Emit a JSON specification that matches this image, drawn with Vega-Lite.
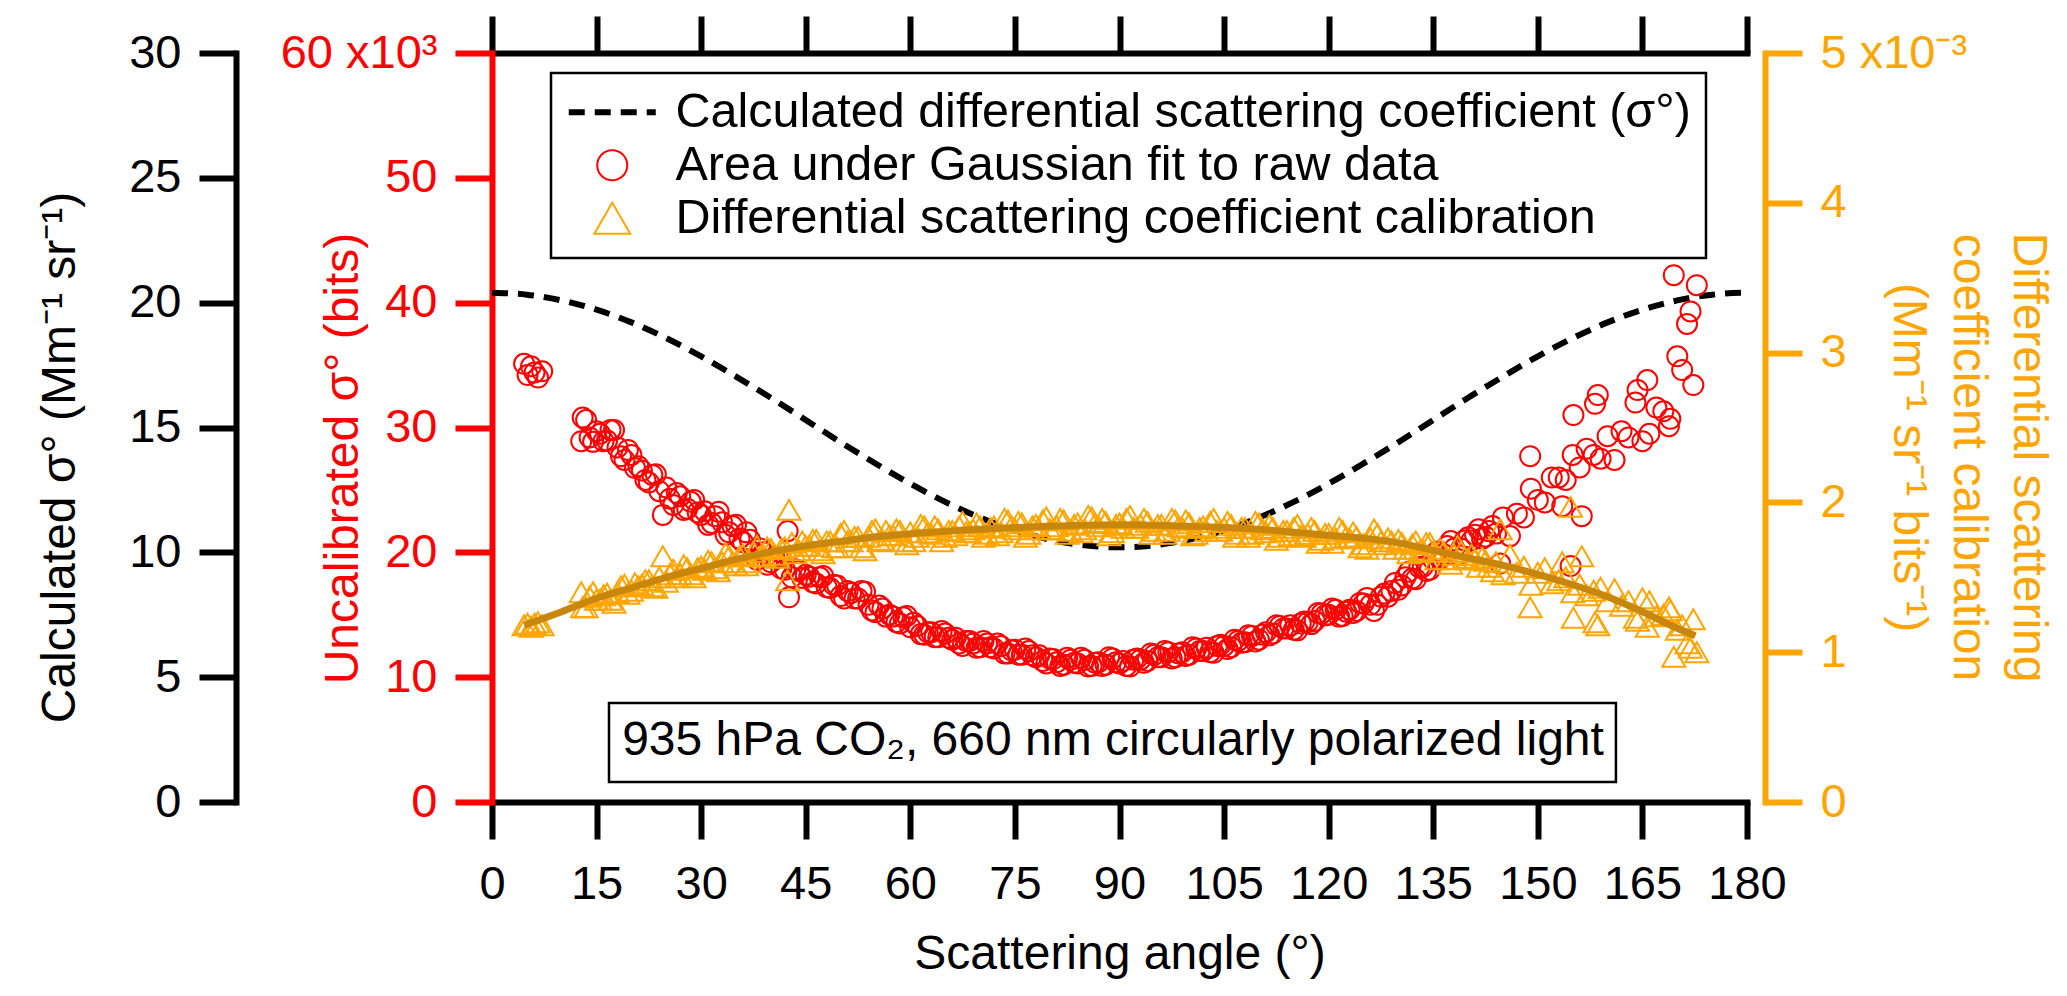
{
  "$schema": "https://vega.github.io/schema/vega-lite/v6.json",
  "background": "white",
  "autosize": "none",
  "width": 1255,
  "height": 749,
  "padding": {"left": 492, "top": 53, "right": 320, "bottom": 194},
  "config": {
    "font": "Liberation Sans",
    "view": {"stroke": null},
    "axis": {
      "grid": false,
      "labelFlush": false,
      "labelBound": false,
      "labelOverlap": false,
      "labelFontSize": 47,
      "titleFontSize": 48,
      "titleFontWeight": "normal",
      "domainWidth": 6,
      "domainCap": "square",
      "tickWidth": 6,
      "tickSize": 37
    }
  },
  "datasets": {
    "calc": [
      {"a": 0, "s": 20.4}, {"a": 5, "s": 20.32}, {"a": 10, "s": 20.09}, {"a": 15, "s": 19.72},
      {"a": 20, "s": 19.21}, {"a": 25, "s": 18.58}, {"a": 30, "s": 17.85}, {"a": 35, "s": 17.04},
      {"a": 40, "s": 16.19}, {"a": 45, "s": 15.3}, {"a": 50, "s": 14.41}, {"a": 55, "s": 13.56},
      {"a": 60, "s": 12.75}, {"a": 65, "s": 12.02}, {"a": 70, "s": 11.39}, {"a": 75, "s": 10.88},
      {"a": 80, "s": 10.51}, {"a": 85, "s": 10.28}, {"a": 90, "s": 10.2}, {"a": 95, "s": 10.28},
      {"a": 100, "s": 10.51}, {"a": 105, "s": 10.88}, {"a": 110, "s": 11.39}, {"a": 115, "s": 12.02},
      {"a": 120, "s": 12.75}, {"a": 125, "s": 13.56}, {"a": 130, "s": 14.41}, {"a": 135, "s": 15.3},
      {"a": 140, "s": 16.19}, {"a": 145, "s": 17.04}, {"a": 150, "s": 17.85}, {"a": 155, "s": 18.58},
      {"a": 160, "s": 19.21}, {"a": 165, "s": 19.72}, {"a": 170, "s": 20.09}, {"a": 175, "s": 20.32},
      {"a": 180, "s": 20.4}
    ],
    "fit": [
      {"a": 4.6, "t": 1.18}, {"a": 10, "t": 1.27}, {"a": 15, "t": 1.36}, {"a": 20, "t": 1.43},
      {"a": 25, "t": 1.5}, {"a": 30, "t": 1.56}, {"a": 35, "t": 1.62}, {"a": 40, "t": 1.67},
      {"a": 45, "t": 1.71}, {"a": 50, "t": 1.74}, {"a": 55, "t": 1.77}, {"a": 60, "t": 1.79},
      {"a": 70, "t": 1.82}, {"a": 80, "t": 1.84}, {"a": 90, "t": 1.85}, {"a": 100, "t": 1.84},
      {"a": 110, "t": 1.82}, {"a": 120, "t": 1.78}, {"a": 125, "t": 1.76}, {"a": 130, "t": 1.73},
      {"a": 135, "t": 1.68}, {"a": 140, "t": 1.63}, {"a": 145, "t": 1.58}, {"a": 150, "t": 1.52},
      {"a": 155, "t": 1.45}, {"a": 160, "t": 1.37}, {"a": 165, "t": 1.27}, {"a": 170, "t": 1.16},
      {"a": 172.6, "t": 1.11}
    ],
    "pts": [
      {"a": 4.6, "r": 35.1, "t": 1.18}, {"a": 5.1, "r": 34.2, "t": 1.19}, {"a": 5.6, "r": 34.9, "t": 1.17},
      {"a": 6.1, "r": 34.4, "t": 1.19}, {"a": 6.6, "r": 34.0, "t": 1.2}, {"a": 7.2, "r": 34.5, "t": 1.18},
      {"a": 12.8, "r": 28.9, "t": 1.4}, {"a": 13, "r": 30.8, "t": 1.3}, {"a": 13.5, "r": 30.6, "t": 1.3},
      {"a": 14, "r": 29.2, "t": 1.37}, {"a": 14.5, "r": 28.85, "t": 1.4}, {"a": 15, "r": 29.7, "t": 1.35},
      {"a": 15.5, "r": 29.5, "t": 1.35}, {"a": 16, "r": 28.9, "t": 1.38}, {"a": 16.5, "r": 28.95, "t": 1.39},
      {"a": 17, "r": 29.8, "t": 1.35}, {"a": 17.5, "r": 29.8, "t": 1.33}, {"a": 18, "r": 28.4, "t": 1.4},
      {"a": 18.5, "r": 27.7, "t": 1.44}, {"a": 19, "r": 27.4, "t": 1.45}, {"a": 19.5, "r": 28.2, "t": 1.39},
      {"a": 20, "r": 27.8, "t": 1.41}, {"a": 20.5, "r": 26.75, "t": 1.46}, {"a": 21, "r": 26.9, "t": 1.44},
      {"a": 21.5, "r": 26.55, "t": 1.45}, {"a": 22, "r": 25.8, "t": 1.48}, {"a": 22.5, "r": 25.6, "t": 1.48},
      {"a": 23, "r": 26.2, "t": 1.44}, {"a": 23.5, "r": 26.25, "t": 1.43}, {"a": 24, "r": 24.9, "t": 1.5},
      {"a": 24.5, "r": 23.0, "t": 1.64}, {"a": 25, "r": 25.2, "t": 1.47}, {"a": 25.5, "r": 24.3, "t": 1.52},
      {"a": 26, "r": 23.8, "t": 1.55}, {"a": 26.5, "r": 24.75, "t": 1.5}, {"a": 27, "r": 24.5, "t": 1.52},
      {"a": 27.5, "r": 23.4, "t": 1.58}, {"a": 28, "r": 23.5, "t": 1.56}, {"a": 28.5, "r": 24.05, "t": 1.52},
      {"a": 29, "r": 24.2, "t": 1.5}, {"a": 29.5, "r": 23.2, "t": 1.56}, {"a": 30, "r": 23.0, "t": 1.57},
      {"a": 30.5, "r": 23.3, "t": 1.55}, {"a": 31, "r": 22.2, "t": 1.61}, {"a": 31.5, "r": 22.35, "t": 1.6},
      {"a": 32, "r": 22.9, "t": 1.56}, {"a": 32.5, "r": 23.25, "t": 1.54}, {"a": 33, "r": 22.4, "t": 1.6},
      {"a": 33.5, "r": 21.4, "t": 1.66}, {"a": 34, "r": 21.6, "t": 1.64}, {"a": 34.5, "r": 22.1, "t": 1.6},
      {"a": 35, "r": 22.2, "t": 1.58}, {"a": 35.5, "r": 21.1, "t": 1.64}, {"a": 36, "r": 20.8, "t": 1.65},
      {"a": 36.5, "r": 21.6, "t": 1.58}, {"a": 37, "r": 21.0, "t": 1.6}, {"a": 37.5, "r": 20.0, "t": 1.67},
      {"a": 38, "r": 19.4, "t": 1.71}, {"a": 38.5, "r": 20.3, "t": 1.64}, {"a": 39, "r": 20.0, "t": 1.64},
      {"a": 39.5, "r": 19.0, "t": 1.7}, {"a": 40, "r": 19.2, "t": 1.69}, {"a": 40.5, "r": 19.6, "t": 1.65},
      {"a": 41, "r": 19.6, "t": 1.63}, {"a": 41.5, "r": 18.7, "t": 1.69}, {"a": 42, "r": 18.6, "t": 1.7},
      {"a": 42.4, "r": 21.7, "t": 1.48}, {"a": 42.6, "r": 16.4, "t": 1.95}, {"a": 43, "r": 18.0, "t": 1.73},
      {"a": 43.5, "r": 18.65, "t": 1.66}, {"a": 44, "r": 18.5, "t": 1.68}, {"a": 44.5, "r": 17.95, "t": 1.74},
      {"a": 45, "r": 18.2, "t": 1.71}, {"a": 45.5, "r": 18.05, "t": 1.71}, {"a": 46, "r": 17.6, "t": 1.75},
      {"a": 46.5, "r": 17.5, "t": 1.75}, {"a": 47, "r": 18.0, "t": 1.68}, {"a": 47.5, "r": 18.1, "t": 1.66},
      {"a": 48, "r": 17.2, "t": 1.74}, {"a": 48.5, "r": 17.15, "t": 1.74}, {"a": 49, "r": 17.4, "t": 1.7},
      {"a": 49.5, "r": 17.35, "t": 1.7}, {"a": 50, "r": 16.5, "t": 1.79}, {"a": 50.5, "r": 16.3, "t": 1.81},
      {"a": 51, "r": 16.9, "t": 1.74}, {"a": 51.5, "r": 16.75, "t": 1.74}, {"a": 52, "r": 16.3, "t": 1.77},
      {"a": 52.5, "r": 16.3, "t": 1.77}, {"a": 53, "r": 16.9, "t": 1.7}, {"a": 53.5, "r": 16.85, "t": 1.68},
      {"a": 54, "r": 15.8, "t": 1.77}, {"a": 54.5, "r": 15.35, "t": 1.81}, {"a": 55, "r": 15.2, "t": 1.82},
      {"a": 55.5, "r": 15.75, "t": 1.74}, {"a": 56, "r": 15.5, "t": 1.75}, {"a": 56.5, "r": 14.85, "t": 1.81},
      {"a": 57, "r": 15.0, "t": 1.78}, {"a": 57.5, "r": 14.85, "t": 1.78}, {"a": 58, "r": 14.4, "t": 1.82},
      {"a": 58.5, "r": 14.3, "t": 1.81}, {"a": 59, "r": 14.8, "t": 1.74}, {"a": 59.5, "r": 14.9, "t": 1.72},
      {"a": 60, "r": 14.0, "t": 1.8}, {"a": 60.5, "r": 14.35, "t": 1.74}, {"a": 61, "r": 14.1, "t": 1.77},
      {"a": 61.5, "r": 13.45, "t": 1.85}, {"a": 62, "r": 13.4, "t": 1.84}, {"a": 62.5, "r": 13.6, "t": 1.8},
      {"a": 63, "r": 13.6, "t": 1.79}, {"a": 63.5, "r": 13.2, "t": 1.84}, {"a": 64, "r": 13.2, "t": 1.82},
      {"a": 64.5, "r": 13.7, "t": 1.74}, {"a": 65, "r": 13.5, "t": 1.77}, {"a": 65.5, "r": 13.15, "t": 1.81},
      {"a": 66, "r": 13.0, "t": 1.81}, {"a": 66.5, "r": 13.15, "t": 1.78}, {"a": 67, "r": 12.7, "t": 1.84},
      {"a": 67.5, "r": 12.5, "t": 1.87}, {"a": 68, "r": 12.9, "t": 1.8}, {"a": 68.5, "r": 12.9, "t": 1.8},
      {"a": 69, "r": 12.7, "t": 1.82}, {"a": 69.5, "r": 12.35, "t": 1.86}, {"a": 70, "r": 12.4, "t": 1.84},
      {"a": 70.5, "r": 12.9, "t": 1.77}, {"a": 71, "r": 12.7, "t": 1.79}, {"a": 71.5, "r": 12.4, "t": 1.83},
      {"a": 72, "r": 12.3, "t": 1.84}, {"a": 72.5, "r": 12.7, "t": 1.78}, {"a": 73, "r": 12.5, "t": 1.8},
      {"a": 73.5, "r": 11.9, "t": 1.89}, {"a": 74, "r": 11.9, "t": 1.88}, {"a": 74.5, "r": 12.15, "t": 1.84},
      {"a": 75, "r": 12.2, "t": 1.82}, {"a": 75.5, "r": 11.8, "t": 1.87}, {"a": 76, "r": 11.8, "t": 1.86},
      {"a": 76.5, "r": 12.3, "t": 1.77}, {"a": 77, "r": 12.1, "t": 1.79}, {"a": 77.5, "r": 11.75, "t": 1.84},
      {"a": 78, "r": 11.6, "t": 1.85}, {"a": 78.5, "r": 11.75, "t": 1.82}, {"a": 79, "r": 11.3, "t": 1.88},
      {"a": 79.5, "r": 11.1, "t": 1.9}, {"a": 80, "r": 11.5, "t": 1.82}, {"a": 80.5, "r": 11.45, "t": 1.82},
      {"a": 81, "r": 11.2, "t": 1.84}, {"a": 81.5, "r": 10.9, "t": 1.89}, {"a": 82, "r": 11.0, "t": 1.88},
      {"a": 82.5, "r": 11.55, "t": 1.79}, {"a": 83, "r": 11.4, "t": 1.81}, {"a": 83.5, "r": 11.15, "t": 1.85},
      {"a": 84, "r": 11.1, "t": 1.86}, {"a": 84.5, "r": 11.55, "t": 1.8}, {"a": 85, "r": 11.4, "t": 1.82},
      {"a": 85.5, "r": 10.85, "t": 1.91}, {"a": 86, "r": 10.9, "t": 1.9}, {"a": 86.5, "r": 11.15, "t": 1.86},
      {"a": 87, "r": 11.2, "t": 1.84}, {"a": 87.5, "r": 10.9, "t": 1.89}, {"a": 88, "r": 11.0, "t": 1.87},
      {"a": 88.5, "r": 11.6, "t": 1.78}, {"a": 89, "r": 11.5, "t": 1.8}, {"a": 89.5, "r": 11.2, "t": 1.85},
      {"a": 90, "r": 11.1, "t": 1.86}, {"a": 90.5, "r": 11.3, "t": 1.83}, {"a": 91, "r": 10.9, "t": 1.89},
      {"a": 91.5, "r": 10.85, "t": 1.91}, {"a": 92, "r": 11.4, "t": 1.83}, {"a": 92.5, "r": 11.5, "t": 1.83},
      {"a": 93, "r": 11.4, "t": 1.85}, {"a": 93.5, "r": 11.15, "t": 1.89}, {"a": 94, "r": 11.3, "t": 1.87},
      {"a": 94.5, "r": 11.9, "t": 1.79}, {"a": 95, "r": 11.8, "t": 1.81}, {"a": 95.5, "r": 11.6, "t": 1.85},
      {"a": 96, "r": 11.6, "t": 1.85}, {"a": 96.5, "r": 12.1, "t": 1.79}, {"a": 97, "r": 12.0, "t": 1.81},
      {"a": 97.5, "r": 11.5, "t": 1.89}, {"a": 98, "r": 11.6, "t": 1.88}, {"a": 98.5, "r": 11.9, "t": 1.84},
      {"a": 99, "r": 12.0, "t": 1.83}, {"a": 99.5, "r": 11.7, "t": 1.88}, {"a": 100, "r": 11.8, "t": 1.86},
      {"a": 100.5, "r": 12.4, "t": 1.78}, {"a": 101, "r": 12.3, "t": 1.79}, {"a": 101.5, "r": 12.1, "t": 1.83},
      {"a": 102, "r": 12.1, "t": 1.84}, {"a": 102.5, "r": 12.35, "t": 1.81}, {"a": 103, "r": 12.0, "t": 1.87},
      {"a": 103.5, "r": 11.95, "t": 1.89}, {"a": 104, "r": 12.5, "t": 1.81}, {"a": 104.5, "r": 12.6, "t": 1.81},
      {"a": 105, "r": 12.5, "t": 1.83}, {"a": 105.5, "r": 12.25, "t": 1.87}, {"a": 106, "r": 12.4, "t": 1.85},
      {"a": 106.5, "r": 13.0, "t": 1.77}, {"a": 107, "r": 12.9, "t": 1.79}, {"a": 107.5, "r": 12.75, "t": 1.83},
      {"a": 108, "r": 12.8, "t": 1.83}, {"a": 108.5, "r": 13.35, "t": 1.77}, {"a": 109, "r": 13.3, "t": 1.79},
      {"a": 109.5, "r": 12.85, "t": 1.87}, {"a": 110, "r": 13.0, "t": 1.86}, {"a": 110.5, "r": 13.4, "t": 1.82},
      {"a": 111, "r": 13.6, "t": 1.8}, {"a": 111.5, "r": 13.35, "t": 1.85}, {"a": 112, "r": 13.5, "t": 1.83},
      {"a": 112.5, "r": 14.15, "t": 1.75}, {"a": 113, "r": 14.1, "t": 1.77}, {"a": 113.5, "r": 13.9, "t": 1.81},
      {"a": 114, "r": 13.9, "t": 1.81}, {"a": 114.5, "r": 14.15, "t": 1.78}, {"a": 115, "r": 13.8, "t": 1.83},
      {"a": 115.5, "r": 13.75, "t": 1.85}, {"a": 116, "r": 14.3, "t": 1.78}, {"a": 116.5, "r": 14.45, "t": 1.77},
      {"a": 117, "r": 14.4, "t": 1.79}, {"a": 117.5, "r": 14.25, "t": 1.83}, {"a": 118, "r": 14.5, "t": 1.81},
      {"a": 118.5, "r": 15.15, "t": 1.73}, {"a": 119, "r": 15.1, "t": 1.75}, {"a": 119.5, "r": 14.95, "t": 1.79},
      {"a": 120, "r": 15.0, "t": 1.79}, {"a": 120.5, "r": 15.5, "t": 1.73}, {"a": 121, "r": 15.4, "t": 1.76},
      {"a": 121.5, "r": 14.85, "t": 1.83}, {"a": 122, "r": 14.9, "t": 1.81}, {"a": 122.5, "r": 15.25, "t": 1.77},
      {"a": 123, "r": 15.4, "t": 1.76}, {"a": 123.5, "r": 15.15, "t": 1.8}, {"a": 124, "r": 15.3, "t": 1.77},
      {"a": 124.5, "r": 15.95, "t": 1.7}, {"a": 125, "r": 15.9, "t": 1.72}, {"a": 125.5, "r": 16.35, "t": 1.69},
      {"a": 126, "r": 15.8, "t": 1.76}, {"a": 126.5, "r": 15.3, "t": 1.82}, {"a": 127, "r": 15.8, "t": 1.79},
      {"a": 127.5, "r": 16.45, "t": 1.74}, {"a": 128, "r": 16.7, "t": 1.72}, {"a": 128.5, "r": 16.45, "t": 1.76},
      {"a": 129, "r": 16.9, "t": 1.74}, {"a": 129.5, "r": 17.55, "t": 1.69}, {"a": 130, "r": 17.0, "t": 1.75},
      {"a": 130.5, "r": 17.35, "t": 1.73}, {"a": 131, "r": 18.0, "t": 1.69}, {"a": 131.5, "r": 18.45, "t": 1.66},
      {"a": 132, "r": 17.9, "t": 1.72}, {"a": 132.5, "r": 17.85, "t": 1.74}, {"a": 133, "r": 18.8, "t": 1.67},
      {"a": 133.5, "r": 18.85, "t": 1.68}, {"a": 134, "r": 18.5, "t": 1.73}, {"a": 134.5, "r": 18.6, "t": 1.73},
      {"a": 135, "r": 19.4, "t": 1.67}, {"a": 135.5, "r": 20.05, "t": 1.62}, {"a": 136, "r": 19.5, "t": 1.69},
      {"a": 136.5, "r": 19.85, "t": 1.67}, {"a": 137, "r": 20.5, "t": 1.62}, {"a": 137.5, "r": 20.9, "t": 1.59},
      {"a": 138, "r": 20.3, "t": 1.65}, {"a": 138.5, "r": 19.8, "t": 1.71}, {"a": 139, "r": 20.3, "t": 1.67},
      {"a": 139.5, "r": 20.95, "t": 1.63}, {"a": 140, "r": 21.2, "t": 1.62}, {"a": 140.5, "r": 20.95, "t": 1.65},
      {"a": 141, "r": 21.4, "t": 1.62}, {"a": 141.5, "r": 21.85, "t": 1.57}, {"a": 142, "r": 21.1, "t": 1.63},
      {"a": 142.5, "r": 21.25, "t": 1.61}, {"a": 143, "r": 21.7, "t": 1.57}, {"a": 143.5, "r": 22.1, "t": 1.54},
      {"a": 144, "r": 21.5, "t": 1.6}, {"a": 144.6, "r": 19.1, "t": 1.82}, {"a": 145, "r": 22.8, "t": 1.52},
      {"a": 146, "r": 21.3, "t": 1.65}, {"a": 147, "r": 23.1, "t": 1.53}, {"a": 148, "r": 22.8, "t": 1.57},
      {"a": 148.9, "r": 27.7, "t": 1.3}, {"a": 149, "r": 25.1, "t": 1.45}, {"a": 150, "r": 24.2, "t": 1.53},
      {"a": 151, "r": 24.0, "t": 1.56}, {"a": 152, "r": 26.0, "t": 1.46}, {"a": 153, "r": 26.0, "t": 1.48},
      {"a": 153.5, "r": 23.7, "t": 1.6}, {"a": 154, "r": 25.8, "t": 1.5}, {"a": 154.7, "r": 18.9, "t": 1.97},
      {"a": 155, "r": 27.8, "t": 1.4}, {"a": 155.1, "r": 31.0, "t": 1.23}, {"a": 156, "r": 26.8, "t": 1.45},
      {"a": 156.3, "r": 22.9, "t": 1.64}, {"a": 157, "r": 28.3, "t": 1.38}, {"a": 158, "r": 27.8, "t": 1.41},
      {"a": 158.2, "r": 31.9, "t": 1.2}, {"a": 158.6, "r": 32.6, "t": 1.18}, {"a": 159, "r": 27.5, "t": 1.43},
      {"a": 160, "r": 29.3, "t": 1.34}, {"a": 161, "r": 27.4, "t": 1.42}, {"a": 162, "r": 29.7, "t": 1.31},
      {"a": 163, "r": 29.2, "t": 1.34}, {"a": 164, "r": 32.0, "t": 1.23}, {"a": 164.3, "r": 33.0, "t": 1.21},
      {"a": 165, "r": 28.9, "t": 1.36}, {"a": 165.7, "r": 33.8, "t": 1.17}, {"a": 166, "r": 29.5, "t": 1.34},
      {"a": 167, "r": 31.6, "t": 1.24}, {"a": 168, "r": 31.3, "t": 1.25}, {"a": 168.8, "r": 30.1, "t": 1.3},
      {"a": 169, "r": 30.7, "t": 1.28}, {"a": 169.5, "r": 42.2, "t": 0.97}, {"a": 170, "r": 35.7, "t": 1.15},
      {"a": 170.7, "r": 34.6, "t": 1.18}, {"a": 171.4, "r": 38.3, "t": 1.06}, {"a": 171.9, "r": 39.3, "t": 1.03},
      {"a": 172.3, "r": 33.4, "t": 1.22}, {"a": 172.8, "r": 41.4, "t": 1.0}
    ]
  },
  "resolve": {"scale": {"y": "independent"}, "axis": {"x": "independent"}},
  "layer": [
    {
      "data": {"name": "calc"},
      "mark": {"type": "line", "strokeWidth": 6, "strokeDash": [16, 10], "interpolate": "monotone"},
      "encoding": {
        "x": {
          "field": "a", "type": "quantitative",
          "scale": {"domain": [0, 180], "nice": false},
          "axis": {
            "orient": "bottom",
            "values": [0, 15, 30, 45, 60, 75, 90, 105, 120, 135, 150, 165, 180],
            "domainColor": "black", "tickColor": "black", "labelColor": "black",
            "labelPadding": 22,
            "title": "Scattering angle (°)", "titleColor": "black",
            "titleBaseline": "alphabetic", "titleY": 166
          }
        },
        "y": {
          "field": "s", "type": "quantitative",
          "scale": {"domain": [0, 30], "nice": false},
          "axis": {
            "orient": "left", "offset": 256,
            "values": [0, 5, 10, 15, 20, 25, 30],
            "domainColor": "black", "tickColor": "black", "labelColor": "black",
            "labelPadding": 18,
            "title": "Calculated σ° (Mm⁻¹ sr⁻¹)", "titleColor": "black",
            "titleAngle": 270, "titleBaseline": "alphabetic", "titleX": -162, "titleY": 404
          }
        },
        "color": {
          "datum": "Calculated differential scattering coefficient (σ°)",
          "type": "nominal",
          "scale": {
            "domain": ["Calculated differential scattering coefficient (σ°)", "Area under Gaussian fit to raw data", "Differential scattering coefficient calibration"],
            "range": ["black", "red", "#FFA500"]
          },
          "legend": {
            "title": null,
            "orient": "none",
            "legendX": 59,
            "legendY": 20,
            "padding": 15,
            "rowPadding": 4,
            "symbolSize": 900,
            "symbolOffset": 22,
            "labelOffset": 39,
            "labelFontSize": 48.5,
            "labelColor": "black",
            "labelLimit": 2000,
            "strokeColor": "black",
            "fillColor": "white",
            "encode": {
              "legend": {"update": {"strokeWidth": {"value": 2.5}}},
              "symbols": {
                "update": {
                  "shape": {"signal": "datum.index === 0 ? 'stroke' : datum.index === 1 ? 'circle' : 'triangle-up'"},
                  "size": {"signal": "datum.index === 0 ? 7569 : datum.index === 1 ? 900 : 1296"},
                  "strokeDash": {"signal": "datum.index === 0 ? [16, 10] : [1, 0]"},
                  "strokeWidth": {"signal": "datum.index === 0 ? 6 : 2"},
                  "stroke": {"signal": "datum.index === 0 ? 'black' : datum.index === 1 ? 'red' : '#FFA500'"},
                  "fill": {"value": "transparent"},
                  "opacity": {"value": 1}
                }
              }
            }
          }
        }
      }
    },
    {
      "data": {"name": "pts"},
      "mark": {"type": "point", "shape": "circle", "filled": false, "size": 400, "strokeWidth": 2, "opacity": 1},
      "encoding": {
        "x": {"field": "a", "type": "quantitative", "axis": null},
        "y": {
          "field": "r", "type": "quantitative",
          "scale": {"domain": [0, 60], "nice": false},
          "axis": {
            "orient": "left", "offset": 0,
            "values": [0, 10, 20, 30, 40, 50, 60],
            "labelExpr": "datum.value === 60 ? '60 x10³' : datum.label",
            "domainColor": "red", "tickColor": "red", "labelColor": "red",
            "labelPadding": 18,
            "title": "Uncalibrated σ° (bits)", "titleColor": "red",
            "titleAngle": 270, "titleBaseline": "alphabetic", "titleX": -135, "titleY": 405
          }
        },
        "color": {"datum": "Area under Gaussian fit to raw data", "type": "nominal"}
      }
    },
    {
      "data": {"name": "pts"},
      "mark": {"type": "point", "shape": "triangle-up", "filled": false, "size": 529, "strokeWidth": 2, "opacity": 1},
      "encoding": {
        "x": {"field": "a", "type": "quantitative", "axis": null},
        "y": {
          "field": "t", "type": "quantitative",
          "scale": {"domain": [0, 5], "nice": false},
          "axis": {
            "orient": "right", "offset": 18,
            "values": [0, 1, 2, 3, 4, 5],
            "labelExpr": "datum.value === 5 ? '5 x10⁻³' : datum.label",
            "domainColor": "#FFA500", "tickColor": "#FFA500", "labelColor": "#FFA500",
            "labelPadding": 18,
            "title": ["Differential scattering", "coefficient calibration", "(Mm⁻¹ sr⁻¹ bits⁻¹)"],
            "titleColor": "#FFA500", "titleLineHeight": 60,
            "titleAngle": 90, "titleBaseline": "alphabetic", "titleX": 248, "titleY": 404
          }
        },
        "color": {"datum": "Differential scattering coefficient calibration", "type": "nominal"}
      }
    },
    {
      "data": {"name": "fit"},
      "mark": {"type": "line", "color": "#C8870A", "strokeWidth": 7, "interpolate": "monotone"},
      "encoding": {
        "x": {"field": "a", "type": "quantitative", "axis": null},
        "y": {"field": "t", "type": "quantitative", "scale": {"domain": [0, 5], "nice": false}, "axis": null}
      }
    },
    {
      "data": {"values": [{}]},
      "mark": {"type": "rect", "fill": "white", "stroke": "black", "strokeWidth": 2.5},
      "encoding": {
        "x": {
          "datum": 16.78, "type": "quantitative",
          "axis": {
            "orient": "top",
            "values": [0, 15, 30, 45, 60, 75, 90, 105, 120, 135, 150, 165, 180],
            "labels": false, "title": null,
            "domainColor": "black", "tickColor": "black"
          }
        },
        "x2": {"datum": 161.2},
        "y": {"datum": 7.93, "type": "quantitative", "scale": {"domain": [0, 60], "nice": false}, "axis": null},
        "y2": {"datum": 1.6}
      }
    },
    {
      "data": {"values": [{}]},
      "mark": {"type": "text", "fontSize": 48, "align": "center", "baseline": "alphabetic", "color": "black"},
      "encoding": {
        "x": {"datum": 89.07, "type": "quantitative", "axis": null},
        "y": {"datum": 3.77, "type": "quantitative", "scale": {"domain": [0, 60], "nice": false}, "axis": null},
        "text": {"value": "935 hPa CO₂, 660 nm circularly polarized light"}
      }
    }
  ]
}
